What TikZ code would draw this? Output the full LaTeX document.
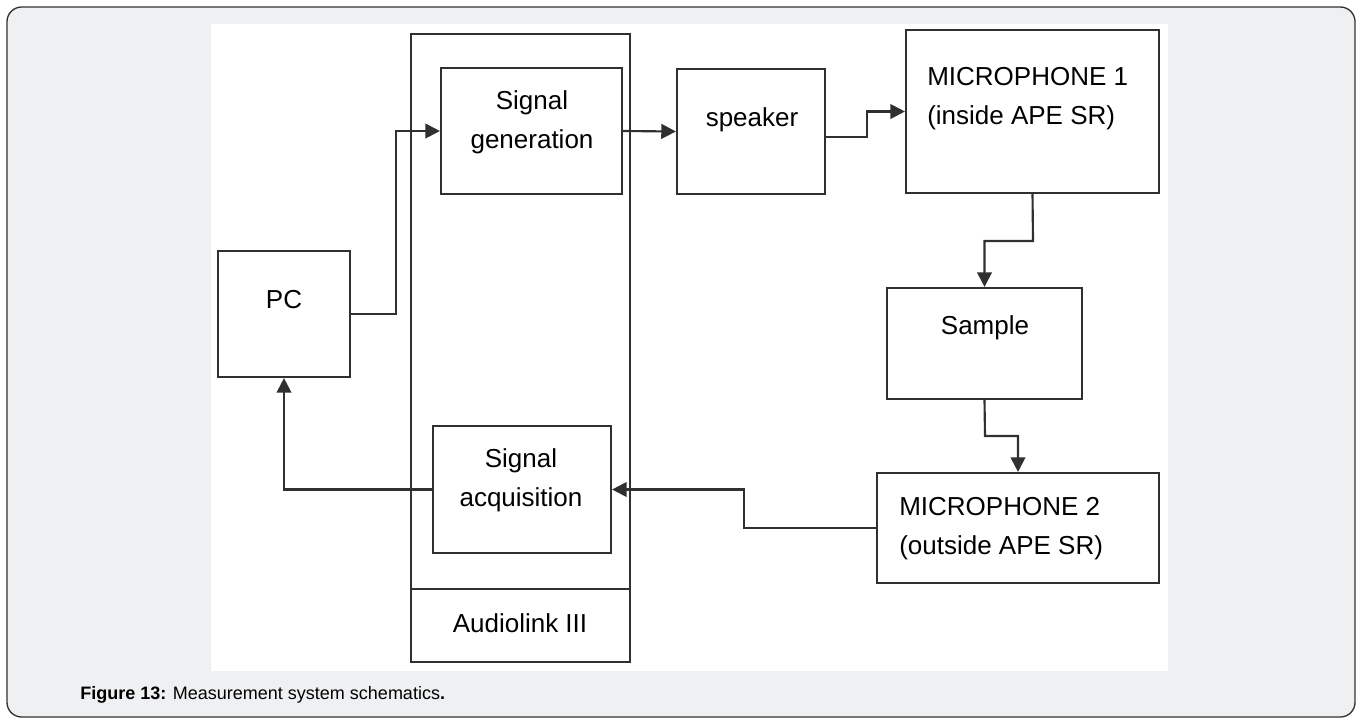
\documentclass[tikz,border=0pt]{standalone}
\usepackage{fontspec}
\setmainfont{Liberation Sans}
\usetikzlibrary{arrows.meta,fit}
\definecolor{framebg}{HTML}{EFF0F2}
\definecolor{ln}{HTML}{303030}
\begin{document}
\begin{tikzpicture}[x=0.75pt,y=-0.75pt,
  box/.style={draw=ln, line width=1.6pt, fill=white, inner sep=0pt, rectangle},
  conn/.style={draw=ln, line width=1.6pt},
  arr/.style={conn, -{Triangle[length=11pt,width=11pt]}},
  lbl/.style={font=\fontsize{19.5}{29.25}\selectfont, inner sep=0pt, text=black},
]
\useasboundingbox (0,0) rectangle (1362,719);
% frame and white panel
\draw[draw=black!80, line width=1pt, fill=framebg, rounded corners=11pt] (7,7) rectangle (1355,717);
\fill[white] (211,24) rectangle (1168,671);
% boxes
\node[box, fit={(411,34) (630,589)}] (al) {};
\node[box, fit={(411,589) (630,662)}] (allab) {};
\node[box, fit={(441,68) (622,194)}] (sg) {};
\node[box, fit={(433,426) (611,553)}] (acq) {};
\node[box, fit={(218,251) (350,377)}] (pc) {};
\node[box, fit={(677,69) (825,194)}] (spk) {};
\node[box, fit={(906,30) (1159,193)}] (mic1) {};
\node[box, fit={(887,288) (1082,399)}] (smp) {};
\node[box, fit={(877,473) (1159,583)}] (mic2) {};
% texts
\node[lbl, anchor=north, align=center] (sgt) at (532,90) {Signal\\generation};
\node[lbl, anchor=base] (spkt) at (752,126) {speaker};
\node[lbl, anchor=north west, align=left] (mic1t) at (927,67) {MICROPHONE 1\\(inside APE SR)};
\node[lbl, anchor=base] (smpt) at (985,334) {Sample};
\node[lbl, anchor=north west, align=left] (mic2t) at (899,497) {MICROPHONE 2\\(outside APE SR)};
\node[lbl, anchor=north, align=center] (acqt) at (521,448) {Signal\\acquisition};
\node[lbl, anchor=base] (alt) at (520,632) {Audiolink III};
\node[lbl, anchor=base] (pct) at (284,308) {PC};
% connectors
\draw[arr] (pc.east) -- (396,314) |- (sg.west);
\draw[arr] (sg.east) -- (spk.west);
\draw[arr] (spk.east |- 0,137) -- (867,137) |- (mic1.west);
\draw[arr] (mic1.south) -- (1033,241) -| (smp.north);
\draw[arr] (smp.south) -- (985,436) -| (mic2.north);
\draw[arr] (mic2.west) -- (744,528) |- (acq.east);
\draw[arr] (acq.west) -| (pc.south);
% caption
\node[anchor=base west, inner sep=0pt, font=\fontsize{13.5}{16}\selectfont] (cap) at (80,699) {\textbf{Figure 13:} Measurement system schematics\textbf{.}};
\end{tikzpicture}
\end{document}
